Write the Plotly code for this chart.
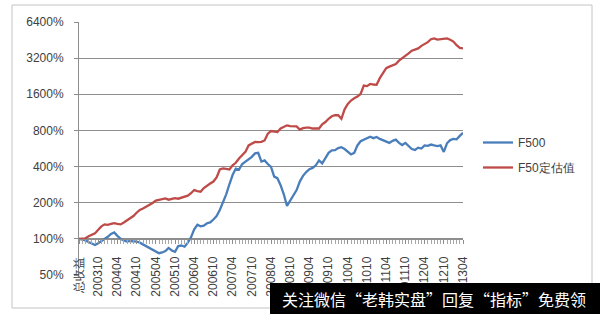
import plotly.graph_objects as go
import math

# ---------------- data ----------------
FIRST_LABEL = "总收益"
START_YEAR, START_MONTH = 2003, 4   # the base month, shown as 总收益
N_MONTHS = 121
LABEL_STEP = 6

F500 = [100, 99, 97, 94, 91, 89, 92, 96, 99, 104,
        110, 113, 106, 100, 97, 95, 96, 96, 95, 93,
        90, 88, 84, 82, 79, 76, 77, 79, 84, 80,
        78, 87, 88, 86, 93, 103, 120, 131, 127, 129,
        135, 137, 145, 155, 174, 200, 235, 285, 340, 385,
        378, 420, 440, 465, 482, 515, 520, 440, 450, 420,
        398, 330, 320, 280, 235, 188, 210, 232, 255, 300,
        335, 360, 380, 390, 410, 450, 425, 470, 520, 545,
        548, 570, 580, 560, 530, 505, 520, 600, 650, 670,
        690, 710, 690, 705, 680, 660, 640, 630, 655, 670,
        630, 605, 630, 590, 560, 550, 575, 565, 600, 595,
        610, 600, 592, 600, 530, 625, 665, 680, 675, 720,
        765]

F50 = [100, 101, 101, 105, 108, 111, 119, 127, 132, 131,
       133, 135, 133, 132, 137, 143, 148, 155, 165, 174,
       179, 185, 190, 199, 208, 210, 214, 217, 212, 214,
       218, 216, 220, 224, 229, 240, 255, 250, 247, 265,
       278, 289, 300, 325, 378, 386, 383, 378, 410, 430,
       467, 495, 530, 600, 625, 641, 640, 642, 660, 752,
       790, 785, 776, 830, 854, 882, 870, 865, 865, 812,
       835, 844, 845, 830, 828, 830, 900, 940, 1000, 1050,
       1070, 1070, 1000, 1200, 1330, 1420, 1480, 1530, 1610, 1890,
       1870, 1950, 1930, 1920, 2180, 2400, 2640, 2720, 2800, 2860,
       3050, 3180, 3300, 3500, 3690, 3780, 3860, 4050, 4190, 4350,
       4600, 4670, 4560, 4610, 4640, 4670, 4560, 4400, 4100, 3900,
       3860]

Y_TICKS = [50, 100, 200, 400, 800, 1600, 3200, 6400]
Y_TICK_TEXT = ["50%", "100%", "200%", "400%", "800%", "1600%", "3200%", "6400%"]

SERIES_NAMES = ["F500", "F50定估值"]
WATERMARK = "关注微信“老韩实盘”回复“指标”免费领"

# categories: base + monthly labels
categories = [FIRST_LABEL]
y, m = START_YEAR, START_MONTH
for _ in range(N_MONTHS - 1):
    m += 1
    if m > 12:
        m = 1
        y += 1
    categories.append(f"{y}{m:02d}")
xs = list(range(len(categories)))
tick_idx = xs[::LABEL_STEP]
tick_txt = [categories[i] for i in tick_idx]

# ---------------- figure ----------------
W, H = 600, 314
L, R, T, B = 79, 137, 22, 39
pw, ph = W - L - R, H - T - B

def px(xp):
    return (xp - L) / pw

def py(yp):
    return (H - B - yp) / ph

BLUE = "#4A7EBB"
RED = "#BE4B48"
GRID = "#8E8E8E"
TXT = "#404040"
FONT = "Liberation Sans"

fig = go.Figure()
fig.add_trace(go.Scatter(x=xs, y=F500, mode="lines", name=SERIES_NAMES[0],
                         line=dict(color=BLUE, width=2.3), legendgroup="a"))
fig.add_trace(go.Scatter(x=xs, y=F50, mode="lines", name=SERIES_NAMES[1],
                         line=dict(color=RED, width=2.3), legendgroup="b"))

ymin, ymax = math.log10(Y_TICKS[0]), math.log10(Y_TICKS[-1])
pos100 = (math.log10(100) - ymin) / (ymax - ymin)

fig.update_layout(
    width=W, height=H,
    margin=dict(l=L, r=R, t=T, b=B),
    paper_bgcolor="white", plot_bgcolor="white",
    font=dict(family=FONT, size=12, color=TXT),
    showlegend=True,
    legend=dict(x=px(478), y=py(128), xanchor="left", yanchor="top",
                bgcolor="rgba(0,0,0,0)", tracegroupgap=6,
                font=dict(family=FONT, size=12, color=TXT)),
    xaxis=dict(
        range=[0, N_MONTHS - 1], showgrid=False, zeroline=False,
        anchor="free", position=pos100,
        showline=True, linecolor=GRID, linewidth=1,
        tickmode="array", tickvals=tick_idx, ticktext=tick_txt,
        tickangle=-90, ticks="outside", ticklen=4, tickcolor=GRID,
        ticklabelstandoff=8,
        tickfont=dict(family=FONT, size=12, color=TXT),
        minor=dict(tickmode="linear", tick0=0, dtick=1, ticks="outside",
                   ticklen=4, tickcolor="#A8A8A8", showgrid=False),
    ),
    yaxis=dict(
        type="log", range=[ymin, ymax],
        tickmode="array", tickvals=Y_TICKS, ticktext=Y_TICK_TEXT,
        showgrid=True, gridcolor=GRID, gridwidth=1,
        showline=True, linecolor=GRID, linewidth=1,
        ticks="outside", ticklen=4, tickcolor=GRID,
        ticklabelstandoff=8,
        tickfont=dict(family=FONT, size=12, color=TXT),
        zeroline=False,
    ),
    shapes=[
        dict(type="rect", xref="paper", yref="paper",
             x0=px(12), x1=px(592), y0=py(308), y1=py(5),
             line=dict(color="#C4C4C4", width=1), fillcolor="rgba(0,0,0,0)",
             layer="below"),
        dict(type="rect", xref="paper", yref="paper",
             x0=px(270), x1=px(600), y0=py(314), y1=py(283),
             line=dict(width=0), fillcolor="black", layer="above"),
    ],
    annotations=[
        dict(text=WATERMARK, xref="paper", yref="paper",
             x=px(434), y=py(299), xanchor="center", yanchor="middle",
             showarrow=False,
             font=dict(family="Noto Sans CJK SC", size=16, color="white")),
    ],
)

fig.write_html("out.html")
